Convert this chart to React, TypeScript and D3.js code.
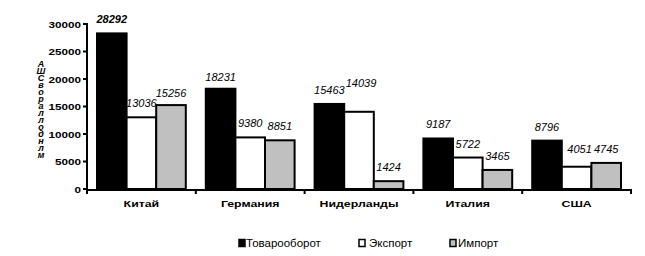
import React from "react";
import * as d3 from "d3";

const categories = ["Китай", "Германия", "Нидерланды", "Италия", "США"];
const seriesNames = ["Товарооборот", "Экспорт", "Импорт"];
const turnover = [28292, 18231, 15463, 9187, 8796];
const exportVals = [13036, 9380, 14039, 5722, 4051];
const importVals = [15256, 8851, 1424, 3465, 4745];
const yTicks = [0, 5000, 10000, 15000, 20000, 25000, 30000];
const yTitle = "АШСвораллоднлм";

const seriesValues = [turnover, exportVals, importVals];
const fills = ["#000000", "#ffffff", "#c0c0c0"];
// label nudges (dx, dy) for overlapping labels
const nudges: Record<string, [number, number]> = {
  "2|1": [2, -15],
  "4|1": [3, -4],
  "0|2": [0, 2],
  "1|0": [0, 2],
};

const FONT = "'Liberation Sans', Arial, sans-serif";

export default function App() {
  const W = 645, H = 256;
  const x0 = d3.scaleBand<string>().domain(categories).range([87, 631]).padding(0);
  const bw = x0.bandwidth();
  const x1 = d3.scaleBand<string>().domain(seriesNames).range([10, bw - 10]).padding(0);
  const y = d3.scaleLinear().domain([0, 30000]).range([189, 24]);
  const y0 = y(0);

  const legendItems = [
    { x: 239, tx: 246 },
    { x: 359, tx: 369 },
    { x: 450, tx: 458 },
  ];

  return (
    <svg width={W} height={H} style={{ position: "absolute", left: 0, top: 0, background: "#fff" }} fontFamily={FONT}>
      <rect x={0} y={0} width={W} height={H} fill="#fff" />
      {/* bars */}
      {categories.map((c, ci) =>
        seriesNames.map((s, si) => {
          const v = seriesValues[si][ci];
          const bx = (x0(c) as number) + (x1(s) as number);
          const by = y(v);
          return (
            <rect key={c + s} x={bx} y={by} width={x1.bandwidth()} height={y0 - by}
              fill={fills[si]} stroke="#000" strokeWidth={2} />
          );
        })
      )}
      {/* value labels */}
      {categories.map((c, ci) =>
        seriesNames.map((s, si) => {
          const v = seriesValues[si][ci];
          const n = nudges[`${ci}|${si}`] || [0, 0];
          const bx = (x0(c) as number) + (x1(s) as number) + x1.bandwidth() / 2;
          return (
            <text key={"l" + c + s} x={bx + n[0]} y={y(v) - 10 + n[1]} textAnchor="middle"
              fontSize={11} fontStyle="italic" fontWeight={ci === 0 && si === 0 ? "bold" : "normal"}
              fill="#000">{v}</text>
          );
        })
      )}
      {/* y axis */}
      <line x1={87} x2={87} y1={y(30000) - 1} y2={y0 + 1} stroke="#000" strokeWidth={2} />
      {yTicks.map((t) => (
        <g key={t}>
          <line x1={83} x2={87} y1={y(t)} y2={y(t)} stroke="#000" strokeWidth={2} />
          <g transform={`translate(81,${y(t) + 3.5}) scale(1.3,1)`}>
            <text x={0} y={0} textAnchor="end" fontSize={9} fontWeight="bold" fill="#000">{t}</text>
          </g>
        </g>
      ))}
      {/* y title stacked (upright vertical) */}
      <text x={41} y={59} fontSize={9} fontWeight="bold" fontStyle="italic" fill="#000"
        style={{ writingMode: "vertical-rl", textOrientation: "upright", letterSpacing: "-3px" } as any}>
        {yTitle}
      </text>
      {/* x axis */}
      <line x1={86} x2={632} y1={y0 + 1} y2={y0 + 1} stroke="#000" strokeWidth={2} />
      {[...categories.map((c) => x0(c) as number), 631].map((tx, i) => (
        <line key={i} x1={tx} x2={tx} y1={y0} y2={y0 + 5} stroke="#000" strokeWidth={2} />
      ))}
      {categories.map((c) => (
        <g key={"c" + c} transform={`translate(${(x0(c) as number) + bw / 2},${207}) scale(1.3,1)`}>
          <text x={0} y={0} textAnchor="middle" fontSize={9.5} fontWeight="bold" fill="#000">{c}</text>
        </g>
      ))}
      {/* legend */}
      {seriesNames.map((s, i) => (
        <g key={"lg" + s}>
          <rect x={legendItems[i].x} y={239.5} width={6} height={7} fill={fills[i]} stroke="#000" strokeWidth={1.5} />
          <text x={legendItems[i].tx} y={247} fontSize={11.5} fill="#000">{s}</text>
        </g>
      ))}
    </svg>
  );
}
